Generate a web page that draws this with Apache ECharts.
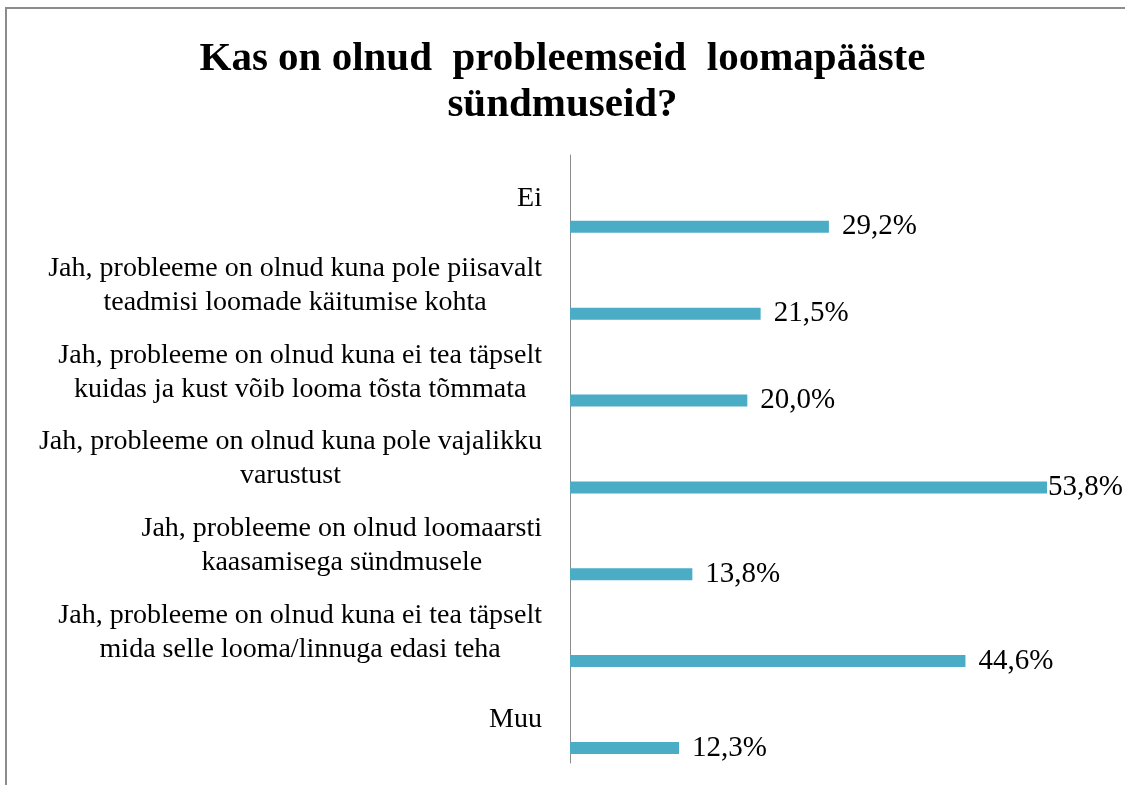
<!DOCTYPE html>
<html>
<head>
<meta charset="utf-8">
<script src="https://cdn.jsdelivr.net/npm/echarts@6/dist/echarts.min.js"></script>
<style>
  html, body { margin: 0; padding: 0; background: #fff; }
  #chart { width: 1125px; height: 785px; }
</style>
</head>
<body>
<div id="chart"></div>
<script>
const titleText = 'Kas on olnud  probleemseid  loomapääste\nsündmuseid?';
const categories = [
  'Ei',
  'Jah, probleeme on olnud kuna pole piisavalt\nteadmisi loomade käitumise kohta',
  'Jah, probleeme on olnud kuna ei tea täpselt\nkuidas ja kust võib looma tõsta tõmmata',
  'Jah, probleeme on olnud kuna pole vajalikku\nvarustust',
  'Jah, probleeme on olnud loomaarsti\nkaasamisega sündmusele',
  'Jah, probleeme on olnud kuna ei tea täpselt\nmida selle looma/linnuga edasi teha',
  'Muu'
];
const values = [29.2, 21.5, 20.0, 53.8, 13.8, 44.6, 12.3];
const axisMin = 0;
const axisMax = 60;

const maxVal = Math.max.apply(null, values);
const fmt = v => v.toFixed(1).replace('.', ',') + '%';

const chart = echarts.init(document.getElementById('chart'));
chart.setOption({
  backgroundColor: '#ffffff',
  animation: false,
  graphic: [{
    type: 'rect',
    silent: true,
    shape: { x: 6, y: 8, width: 1300, height: 900 },
    style: { fill: 'none', stroke: '#8c8c8c', lineWidth: 2 }
  }],
  title: {
    text: titleText,
    left: 'center',
    top: 31,
    textStyle: {
      fontFamily: 'Liberation Serif',
      fontWeight: 'bold',
      fontSize: 41,
      lineHeight: 46,
      color: '#000'
    }
  },
  grid: { left: 570, top: 155, bottom: 22, right: 23, containLabel: false },
  xAxis: {
    type: 'value',
    min: axisMin,
    max: axisMax,
    show: false
  },
  yAxis: {
    type: 'category',
    data: categories,
    inverse: true,
    axisLine: { show: true, lineStyle: { color: '#8c8c8c', width: 1 } },
    axisTick: { show: false },
    splitLine: { show: false },
    axisLabel: {
      margin: 28,
      fontFamily: 'Liberation Serif',
      fontSize: 28,
      color: '#000',
      formatter: v => v.split('\n').map(s => '{c|' + s + '}').join('\n'),
      rich: {
        c: {
          align: 'center',
          fontFamily: 'Liberation Serif',
          fontSize: 28,
          lineHeight: 34,
          color: '#000'
        }
      }
    }
  },
  series: [
    {
      type: 'bar',
      silent: true,
      barWidth: 12,
      barGap: '373%',
      data: values.map(() => 0),
      itemStyle: { color: 'rgba(0,0,0,0)' }
    },
    {
      type: 'bar',
      barWidth: 12,
      barGap: '373%',
      data: values.map(v => v === maxVal ? { value: v, label: { distance: 1 } } : v),
      itemStyle: { color: '#4bacc6' },
      label: {
        show: true,
        position: 'right',
        distance: 13,
        fontFamily: 'Liberation Serif',
        fontSize: 29,
        color: '#000',
        formatter: p => fmt(p.value)
      }
    }
  ]
});
</script>
</body>
</html>
